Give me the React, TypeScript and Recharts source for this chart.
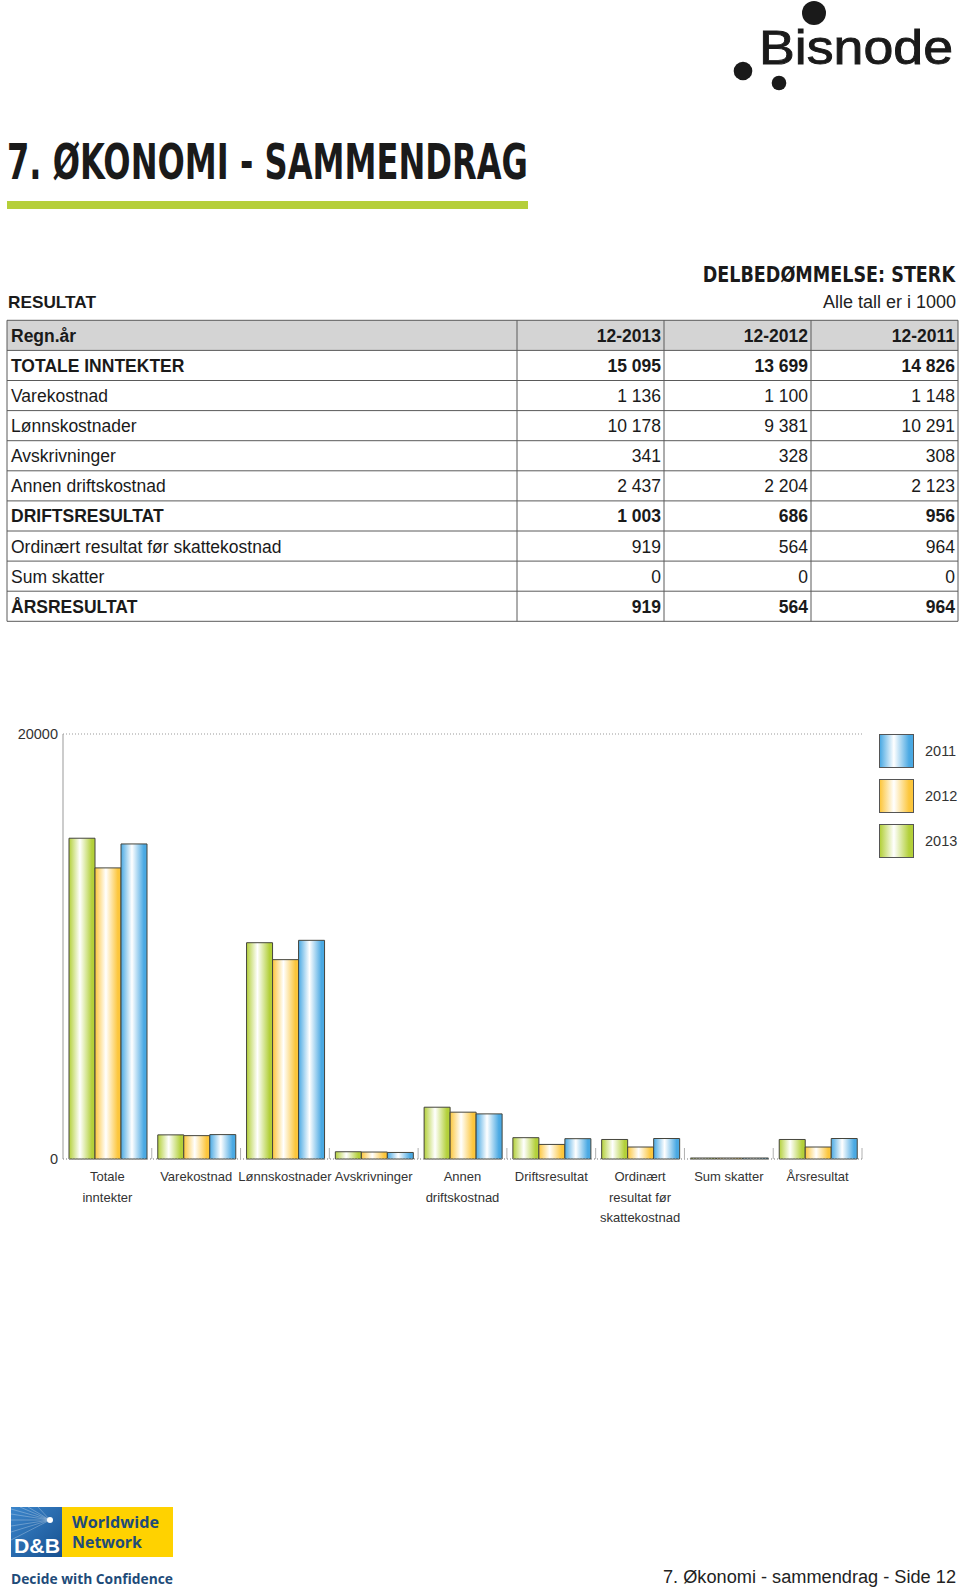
import React from 'react'
import { BarChart, Bar, XAxis, YAxis, CartesianGrid, Legend } from 'recharts'

// chart data (tall er i 1000)
const categories = [
  'Totale inntekter',
  'Varekostnad',
  'Lønnskostnader',
  'Avskrivninger',
  'Annen driftskostnad',
  'Driftsresultat',
  'Ordinært resultat før skattekostnad',
  'Sum skatter',
  'Årsresultat'
]
const tickLines = [
  ['Totale', 'inntekter'],
  ['Varekostnad'],
  ['Lønnskostnader'],
  ['Avskrivninger'],
  ['Annen', 'driftskostnad'],
  ['Driftsresultat'],
  ['Ordinært', 'resultat før', 'skattekostnad'],
  ['Sum skatter'],
  ['Årsresultat']
]
const values2013 = [15095, 1136, 10178, 341, 2437, 1003, 919, 0, 919]
const values2012 = [13699, 1100, 9381, 328, 2204, 686, 564, 0, 564]
const values2011 = [14826, 1148, 10291, 308, 2123, 956, 964, 0, 964]
const yTicks = [0, 20000]

// table data
const tableHead = ['Regn.år', '12-2013', '12-2012', '12-2011']
const rowLabels = [
  'TOTALE INNTEKTER',
  'Varekostnad',
  'Lønnskostnader',
  'Avskrivninger',
  'Annen driftskostnad',
  'DRIFTSRESULTAT',
  'Ordinært resultat før skattekostnad',
  'Sum skatter',
  'ÅRSRESULTAT'
]
const col2013 = ['15 095', '1 136', '10 178', '341', '2 437', '1 003', '919', '0', '919']
const col2012 = ['13 699', '1 100', '9 381', '328', '2 204', '686', '564', '0', '564']
const col2011 = ['14 826', '1 148', '10 291', '308', '2 123', '956', '964', '0', '964']
const boldRows = [0, 5, 8]

const series = [
  { key: 'y2013', name: '2013', color: '#b3d03a' },
  { key: 'y2012', name: '2012', color: '#fcc63c' },
  { key: 'y2011', name: '2011', color: '#4aa9e3' }
]
const legendOrder = ['2011', '2012', '2013']

const data = categories.map((name, i) => ({
  name,
  y2013: values2013[i],
  y2012: values2012[i],
  y2011: values2011[i]
}))

const SANS = '"Liberation Sans", Arial, Helvetica, sans-serif'
const COND = '"DejaVu Sans Condensed", "DejaVu Sans", sans-serif'
const BAND = (960 - 63 - 98) / 9

function CategoryTick({ x, y, index }: any) {
  const lines = tickLines[index] || []
  return (
    <g>
      <line x1={x + BAND / 2} x2={x + BAND / 2} y1={y - 11} y2={y} stroke="#b0b0b0" />
      <text x={x} y={y + 22} textAnchor="middle" fontSize={13} fill="#333" fontFamily={SANS}>
        {lines.map((l, i) => (
          <tspan key={i} x={x} dy={i === 0 ? 0 : 20.5}>
            {l}
          </tspan>
        ))}
      </text>
    </g>
  )
}

function LegendBox({ payload }: any) {
  const items = [...(payload || [])].sort(
    (a: any, b: any) => legendOrder.indexOf(String(a.value)) - legendOrder.indexOf(String(b.value))
  )
  return (
    <div style={{ width: 80 }}>
      {items.map((p: any) => {
        const s = series.find((d) => d.name === p.value)
        const c = s ? s.color : p.color
        return (
          <div key={p.value} style={{ display: 'flex', alignItems: 'center', height: 34, marginBottom: 11 }}>
            <div
              style={{
                width: 33,
                height: 32,
                border: '1px solid #555',
                background: `linear-gradient(to right, ${c} 0%, #ffffff 42%, ${c} 88%, ${c} 100%)`
              }}
            />
            <span style={{ marginLeft: 11, fontSize: 14.5, color: '#333', fontFamily: SANS }}>{p.value}</span>
          </div>
        )
      })}
    </div>
  )
}

function Chart() {
  return (
    <BarChart
      width={960}
      height={560}
      data={data}
      margin={{ top: 34, right: 98, bottom: 0, left: 0 }}
      barCategoryGap={6}
      barGap={0}
    >
      <defs>
        {series.map((s) => (
          <linearGradient key={s.key} id={'g' + s.key} x1="0" y1="0" x2="1" y2="0">
            <stop offset="0%" stopColor={s.color} />
            <stop offset="42%" stopColor="#ffffff" />
            <stop offset="88%" stopColor={s.color} />
            <stop offset="100%" stopColor={s.color} />
          </linearGradient>
        ))}
      </defs>
      <CartesianGrid vertical={false} stroke="#999" strokeDasharray="1 2" />
      <XAxis
        dataKey="name"
        interval={0}
        height={101}
        tickSize={0}
        tickMargin={0}
        tickLine={false}
        axisLine={{ stroke: '#aaa', strokeDasharray: '1 2' }}
        tick={<CategoryTick />}
      />
      <YAxis
        type="number"
        domain={[0, 20000]}
        ticks={yTicks}
        width={63}
        tickLine={false}
        tickSize={3}
        axisLine={{ stroke: '#999' }}
        tick={{ fontSize: 14.5, fill: '#333', fontFamily: SANS }}
      />
      <Legend
        layout="vertical"
        align="center"
        verticalAlign="middle"
        wrapperStyle={{ left: 879, top: 34, width: 80 }}
        content={<LegendBox />}
      />
      {series.map((s) => (
        <Bar
          key={s.key}
          dataKey={s.key}
          name={s.name}
          fill={`url(#g${s.key})`}
          stroke="#45453c"
          strokeWidth={1}
          minPointSize={1}
          isAnimationActive={false}
        />
      ))}
    </BarChart>
  )
}

function Page() {
  const top = 320.3
  const rh = 30.1
  const cols = [7, 517, 664, 811, 958]
  const nRows = rowLabels.length + 1
  const bottom = top + nRows * rh
  return (
    <svg width={960} height={1589} style={{ position: 'absolute', left: 0, top: 0 }} fontFamily={SANS}>
      {/* logo */}
      <circle cx={814} cy={13} r={12} fill="#1a1a1a" />
      <circle cx={743} cy={71} r={9.3} fill="#1a1a1a" />
      <circle cx={779} cy={83} r={7.3} fill="#1a1a1a" />
      <text x={759} y={64} fontSize={49} fill="#1a1a1a" stroke="#1a1a1a" strokeWidth={0.9} textLength={194} lengthAdjust="spacingAndGlyphs">
        Bisnode
      </text>

      {/* title */}
      <text x={7} y={179} fontSize={50} fontWeight="bold" fontFamily={COND} fill="#1a1a1a" textLength={521} lengthAdjust="spacingAndGlyphs">
        7. ØKONOMI - SAMMENDRAG
      </text>
      <rect x={7} y={201} width={521} height={8} fill="#b5cf3a" />

      <g transform="translate(955 282) scale(0.93 1)">
        <text x={0} y={0} fontSize={21} fontWeight="bold" fontFamily={COND} fill="#1a1a1a" textAnchor="end">
          DELBEDØMMELSE: STERK
        </text>
      </g>
      <text x={8} y={308} fontSize={17} fontWeight="bold" fill="#1a1a1a" textLength={88} lengthAdjust="spacingAndGlyphs">
        RESULTAT
      </text>
      <text x={956} y={308} fontSize={17.5} fill="#222" textAnchor="end" textLength={133} lengthAdjust="spacingAndGlyphs">
        Alle tall er i 1000
      </text>

      {/* table */}
      <rect x={cols[0]} y={top} width={cols[4] - cols[0]} height={rh} fill="#d4d4d4" />
      {Array.from({ length: nRows + 1 }).map((_, i) => (
        <line key={'h' + i} x1={cols[0]} x2={cols[4]} y1={top + i * rh} y2={top + i * rh} stroke="#5a5a5a" />
      ))}
      {cols.map((c, i) => (
        <line key={'v' + i} x1={c} x2={c} y1={top} y2={bottom} stroke="#5a5a5a" />
      ))}
      <text x={11} y={top + 21.5} fontSize={17.5} fontWeight="bold" fill="#1a1a1a">
        {tableHead[0]}
      </text>
      {tableHead.slice(1).map((h, j) => (
        <text key={h} x={cols[j + 2] - 3} y={top + 21.5} fontSize={17.5} fontWeight="bold" fill="#1a1a1a" textAnchor="end">
          {h}
        </text>
      ))}
      {rowLabels.map((label, i) => {
        const y = top + (i + 1) * rh + 21.5
        const bold = boldRows.includes(i)
        const w = bold ? 'bold' : 'normal'
        return (
          <g key={label} fontSize={17.5} fontWeight={w} fill="#1a1a1a">
            <text x={11} y={y}>{label}</text>
            <text x={cols[2] - 3} y={y} textAnchor="end">{col2013[i]}</text>
            <text x={cols[3] - 3} y={y} textAnchor="end">{col2012[i]}</text>
            <text x={cols[4] - 3} y={y} textAnchor="end">{col2011[i]}</text>
          </g>
        )
      })}

      {/* footer */}
      <defs>
        <linearGradient id="dnbBlue" x1="0" y1="0" x2="1" y2="1">
          <stop offset="0%" stopColor="#3b86cc" />
          <stop offset="100%" stopColor="#17508f" />
        </linearGradient>
      </defs>
      <rect x={11} y={1507} width={51} height={50} fill="url(#dnbBlue)" />
      {[1509, 1514, 1520, 1526, 1532, 1540].map((yy, i) => (
        <line key={i} x1={50} y1={1520} x2={11} y2={yy} stroke="#ffffff" strokeOpacity={0.35} strokeWidth={0.8} />
      ))}
      {[20, 28, 38].map((xx, i) => (
        <line key={'u' + i} x1={50} y1={1520} x2={xx} y2={1507} stroke="#ffffff" strokeOpacity={0.35} strokeWidth={0.8} />
      ))}
      <circle cx={50} cy={1520} r={3} fill="#ffffff" />
      <text x={14} y={1553} fontSize={20} fontWeight="bold" fill="#ffffff" textLength={46} lengthAdjust="spacingAndGlyphs">
        D&amp;B
      </text>
      <rect x={62} y={1507} width={111} height={50} fill="#ffd200" />
      <text x={72} y={1528} fontSize={16} fontWeight="bold" fontFamily='"Open Sans", sans-serif' fill="#1e4b79" textLength={87} lengthAdjust="spacingAndGlyphs">
        Worldwide
      </text>
      <text x={72} y={1548} fontSize={16} fontWeight="bold" fontFamily='"Open Sans", sans-serif' fill="#1e4b79" textLength={70} lengthAdjust="spacingAndGlyphs">
        Network
      </text>
      <text x={11} y={1584} fontSize={15} fontWeight="bold" fontFamily='"Open Sans", sans-serif' fill="#1e4b79" textLength={162} lengthAdjust="spacingAndGlyphs">
        Decide with Confidence
      </text>
      <text x={956} y={1583} fontSize={18} fill="#222" textAnchor="end" textLength={293} lengthAdjust="spacingAndGlyphs">
        7. Økonomi - sammendrag - Side 12
      </text>
    </svg>
  )
}

export default function App() {
  return (
    <div style={{ position: 'relative', width: 960, height: 1589, overflow: 'hidden', background: '#fff' }}>
      <style>{'body{margin:0}'}</style>
      <Page />
      <div style={{ position: 'absolute', left: 0, top: 700 }}>
        <Chart />
      </div>
    </div>
  )
}
